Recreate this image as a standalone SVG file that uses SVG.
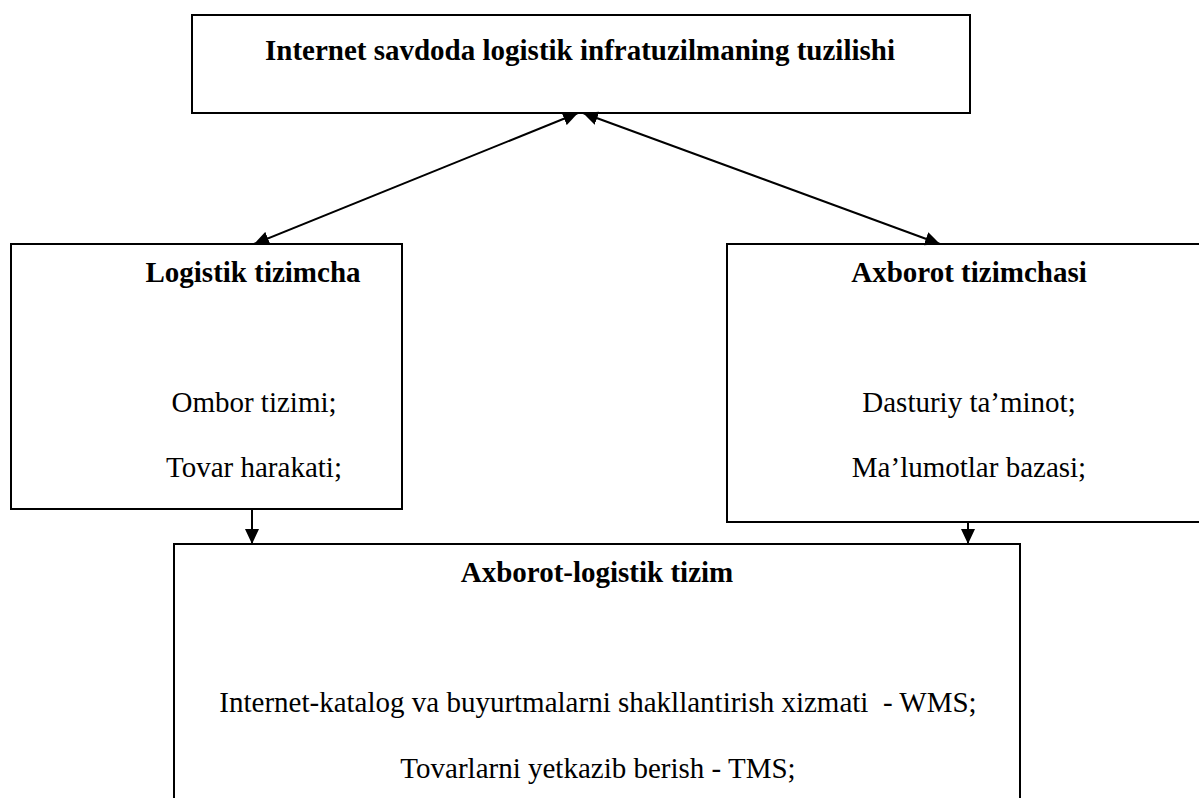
<svg xmlns="http://www.w3.org/2000/svg" width="1199" height="798" viewBox="0 0 1199 798">
<style>
.box{fill:#fff;stroke:#000;stroke-width:2}
.t{font-family:"Liberation Serif","Times New Roman",serif;font-size:29px;fill:#000;text-anchor:middle}
.b{font-weight:bold}
.c{stroke:#000;stroke-width:2;fill:none}
</style>
<defs>
<marker id="ah" markerUnits="userSpaceOnUse" markerWidth="16" markerHeight="14" refX="15" refY="7" orient="auto-start-reverse">
<path d="M0,0 L15,7 L0,14 z" fill="#000"/>
</marker>
</defs>
<g id="top">
<rect class="box" x="192" y="15" width="778" height="98"/>
<text class="t b" x="580" y="60">Internet savdoda logistik infratuzilmaning tuzilishi</text>
</g>
<g id="left">
<rect class="box" x="11" y="244" width="391" height="265"/>
<text class="t b" x="253" y="282">Logistik tizimcha</text>
<text class="t" x="254" y="412">Ombor tizimi;</text>
<text class="t" x="254" y="477">Tovar harakati;</text>
</g>
<g id="right">
<rect class="box" x="727" y="244" width="490" height="278"/>
<text class="t b" x="969" y="282">Axborot tizimchasi</text>
<text class="t" x="969" y="412">Dasturiy ta’minot;</text>
<text class="t" x="969" y="477">Ma’lumotlar bazasi;</text>
</g>
<g id="bottom">
<rect class="box" x="174" y="544" width="846" height="280"/>
<text class="t b" x="597" y="582">Axborot-logistik tizim</text>
<text class="t" x="598" y="712">Internet-katalog va buyurtmalarni shakllantirish xizmati &#160;- WMS;</text>
<text class="t" x="598" y="778">Tovarlarni yetkazib berish - TMS;</text>
</g>
<g id="connectors">
<line class="c" x1="254" y1="244" x2="578" y2="113" marker-start="url(#ah)" marker-end="url(#ah)"/>
<line class="c" x1="940" y1="244" x2="583" y2="113" marker-start="url(#ah)" marker-end="url(#ah)"/>
<line class="c" x1="252" y1="509" x2="252" y2="544" marker-end="url(#ah)"/>
<line class="c" x1="968" y1="522" x2="968" y2="544" marker-end="url(#ah)"/>
</g>
</svg>
